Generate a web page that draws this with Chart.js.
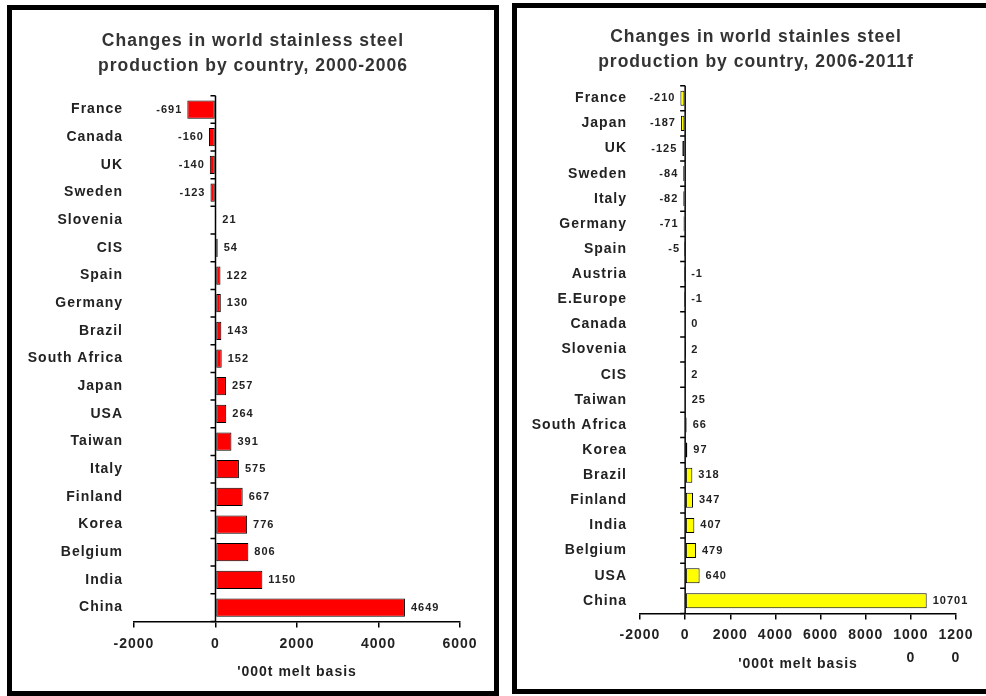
<!DOCTYPE html>
<html>
<head>
<meta charset="utf-8">
<script src="https://cdn.jsdelivr.net/npm/chart.js@4.4.0/dist/chart.umd.min.js"></script>
<style>
  body { margin: 0; background: #fff; overflow: hidden; width: 986px; height: 696px; position: relative; }
  .panel { position: absolute; border: 5px solid #000; background: #fff; }
  #p1 { left: 7px; top: 5px; width: 482px; height: 681px; }
  #p2 { left: 512px; top: 3px; width: 478px; height: 681px; }
</style>
</head>
<body>
<div class="panel" id="p1"><canvas id="chart1" width="482" height="681"></canvas></div>
<div class="panel" id="p2"><canvas id="chart2" width="478" height="681"></canvas></div>
<script>
const countries1 = ["France", "Canada", "UK", "Sweden", "Slovenia", "CIS", "Spain", "Germany", "Brazil",
  "South Africa", "Japan", "USA", "Taiwan", "Italy", "Finland", "Korea", "Belgium", "India", "China"];
const change1 = [-691, -160, -140, -123, 21, 54, 122, 130, 143, 152, 257, 264, 391, 575, 667, 776, 806, 1150, 4649];

const countries2 = ["France", "Japan", "UK", "Sweden", "Italy", "Germany", "Spain", "Austria", "E.Europe",
  "Canada", "Slovenia", "CIS", "Taiwan", "South Africa", "Korea", "Brazil", "Finland", "India", "Belgium", "USA", "China"];
const change2 = [-210, -187, -125, -84, -82, -71, -5, -1, -1, 0, 2, 2, 25, 66, 97, 318, 347, 407, 479, 640, 10701];

const xTicks1 = [-2000, 0, 2000, 4000, 6000];
const xTicks2 = [-2000, 0, 2000, 4000, 6000, 8000, 10000, 12000];

const FONT = "'Liberation Sans', Arial, sans-serif";
const TXT = "#222";

// the old excel export has its text a bit spaced out
const spacedText = {
  id: "spacedText",
  beforeUpdate(chart) { chart.ctx.letterSpacing = "1px"; },
  beforeDraw(chart) { chart.ctx.letterSpacing = "1px"; }
};

// zero line with little category ticks + value labels
const axisAndLabels = {
  id: "axisAndLabels",
  afterDatasetsDraw(chart) {
    let ctx = chart.ctx;
    let x = chart.scales.x;
    let x0 = x.getPixelForValue(0);
    let area = chart.chartArea;
    ctx.save();
    ctx.strokeStyle = "#000";
    ctx.lineWidth = 1.5;
    ctx.beginPath();
    ctx.moveTo(x0, area.top);
    ctx.lineTo(x0, area.bottom);
    let n = chart.data.labels.length;
    for (let i = 0; i <= n; i++) {
      let py = area.top + (area.bottom - area.top) * i / n;
      ctx.moveTo(x0 - 5, py);
      ctx.lineTo(x0, py);
    }
    ctx.stroke();

    ctx.fillStyle = TXT;
    ctx.font = "bold 11px " + FONT;
    ctx.textBaseline = "middle";
    let meta = chart.getDatasetMeta(0);
    let vals = chart.data.datasets[0].data;
    meta.data.forEach(function (bar, i) {
      let v = vals[i];
      if (v <= -5) {
        ctx.textAlign = "right";
        ctx.fillText(String(v), bar.x - 5, bar.y);
      } else {
        ctx.textAlign = "left";
        ctx.fillText(String(v), Math.max(bar.x, x0) + 6, bar.y);
      }
    });
    ctx.restore();
  }
};

function makeChart(id, opts) {
  return new Chart(document.getElementById(id).getContext("2d"), {
    type: "bar",
    data: {
      labels: opts.labels,
      datasets: [{
        data: opts.values,
        backgroundColor: opts.color,
        borderColor: "#000",
        borderWidth: 1,
        borderSkipped: false,
        categoryPercentage: 1,
        barPercentage: opts.barPct
      }]
    },
    plugins: [spacedText, axisAndLabels],
    options: {
      indexAxis: "y",
      responsive: false,
      animation: false,
      layout: { padding: { left: 0, right: 0, top: 0, bottom: opts.padBottom } },
      plugins: {
        legend: { display: false },
        tooltip: { enabled: false },
        title: {
          display: true,
          text: opts.title,
          color: "#333",
          font: { family: FONT, size: 17.5, weight: "bold", lineHeight: 1.42 },
          padding: opts.titlePad
        }
      },
      scales: {
        x: {
          min: opts.ticks[0],
          max: opts.ticks[opts.ticks.length - 1],
          afterBuildTicks: function (scale) {
            scale.ticks = opts.ticks.map(v => ({ value: v }));
          },
          // keep room on the right of the plot without moving the title off centre
          afterFit: function (scale) { scale.paddingRight = opts.padSide; },
          grid: { display: true, drawOnChartArea: false, drawTicks: true, tickLength: 6, color: "#000", lineWidth: 1.5 },
          border: { display: true, color: "#000", width: 1.5 },
          ticks: {
            color: TXT,
            padding: opts.tickPad,
            maxRotation: 0,
            autoSkip: false,
            font: { family: FONT, size: 14, weight: "bold", lineHeight: opts.tickLH },
            callback: function (v) {
              let s = String(v);
              if (s.length > 4 && v > 0) return [s.slice(0, 4), s.slice(4)];
              return s;
            }
          },
          title: {
            display: true,
            text: "'000t melt basis",
            color: TXT,
            font: { family: FONT, size: 14, weight: "bold", lineHeight: 1.2 },
            padding: opts.axisTitlePad
          }
        },
        y: {
          afterFit: function (scale) { scale.width = opts.yWidth; },
          grid: { display: false, drawTicks: false },
          border: { display: false },
          ticks: {
            color: TXT,
            padding: opts.yPad,
            autoSkip: false,
            font: { family: FONT, size: 14, weight: "bold" }
          }
        }
      }
    }
  });
}

makeChart("chart1", {
  labels: countries1,
  values: change1,
  color: "#ff0000",
  barPct: 0.66,
  ticks: xTicks1,
  title: ["Changes in world stainless steel", "production by country, 2000-2006"],
  titlePad: { top: 19, bottom: 17 },
  yWidth: 122,
  yPad: 11,
  padSide: 34,
  padBottom: 10,
  tickPad: 8,
  tickLH: 1.2,
  axisTitlePad: { top: 4, bottom: 0 }
});

makeChart("chart2", {
  labels: countries2,
  values: change2,
  color: "#ffff00",
  barPct: 0.6,
  ticks: xTicks2,
  title: ["Changes in world stainles steel", "production by country, 2006-2011f"],
  titlePad: { top: 17, bottom: 11 },
  yWidth: 123,
  yPad: 13,
  padSide: 39,
  padBottom: 16,
  tickPad: 5,
  tickLH: 1.6,
  axisTitlePad: { top: -18, bottom: 0 }
});
</script>
</body>
</html>
